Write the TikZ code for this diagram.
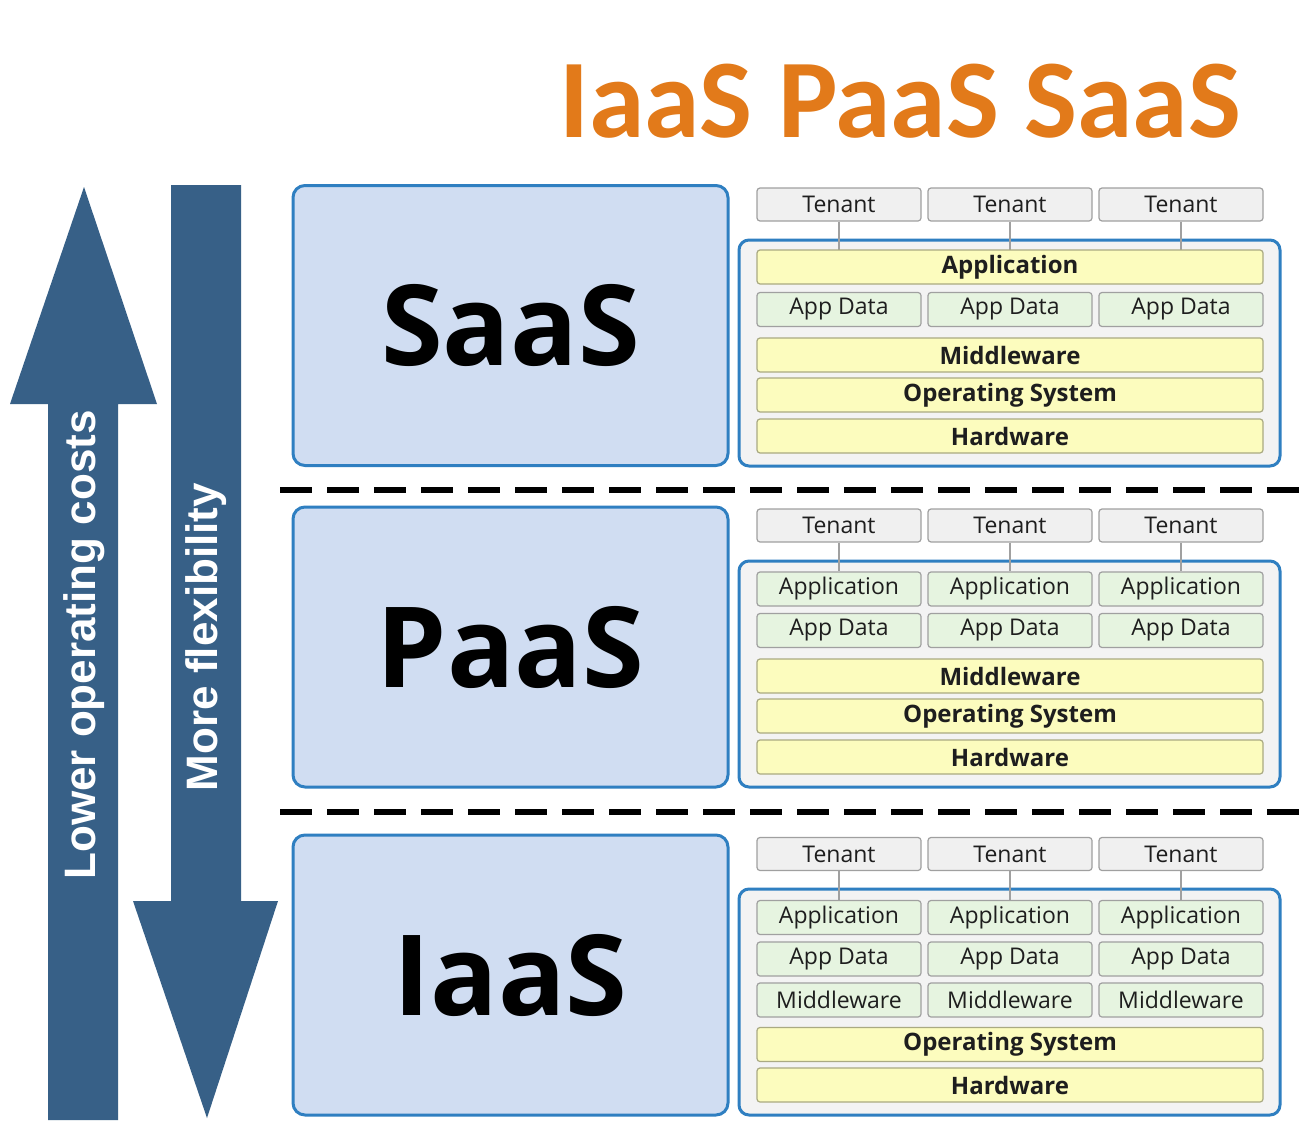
\documentclass[tikz,border=0pt]{standalone}
\usepackage{fontspec}
\setmainfont{Open Sans}
\newfontfamily\titlefont{Carlito}
\newfontfamily\arrowfont{Liberation Sans}
\definecolor{arrowblue}{RGB}{55,96,135}
\definecolor{layerfill}{RGB}{208,221,242}
\definecolor{layerline}{RGB}{47,127,193}
\definecolor{stackfill}{RGB}{243,243,243}
\definecolor{tenantfill}{RGB}{240,240,240}
\definecolor{boxline}{RGB}{160,160,160}
\definecolor{yellowfill}{RGB}{252,252,190}
\definecolor{yellowline}{RGB}{170,170,130}
\definecolor{greenfill}{RGB}{230,244,224}
\definecolor{titleorange}{RGB}{226,122,26}
\definecolor{darktext}{RGB}{30,30,30}
\tikzset{
  layer/.style={draw=layerline, fill=layerfill, line width=3pt, rounded corners=12pt,
    minimum width=435pt, minimum height=280pt, font=\bfseries\fontsize{112}{112}\selectfont},
  stack/.style={draw=layerline, fill=stackfill, line width=3pt, rounded corners=10pt,
    minimum width=541pt, minimum height=226pt},
  tenant/.style={draw=boxline, fill=tenantfill, line width=1.2pt, rounded corners=3pt,
    minimum width=164pt, minimum height=33pt, inner sep=0pt, text=darktext,
    font=\fontsize{23}{23}\selectfont},
  data/.style={tenant, fill=greenfill, minimum height=34pt},
  wide/.style={draw=yellowline, fill=yellowfill, line width=1.2pt, rounded corners=3pt,
    minimum width=506pt, minimum height=34pt, inner sep=0pt, text=darktext,
    font=\bfseries\fontsize{24}{24}\selectfont},
  link/.style={draw=boxline, line width=1.2pt},
  arrowtext/.style={text=white, font=\arrowfont\bfseries\fontsize{44}{44}\selectfont},
  divider/.style={line width=6pt, dash pattern=on 32pt off 15pt}
}
\begin{document}
\begin{tikzpicture}[x=1pt,y=-1pt]
  \fill[white] (0,0) rectangle (1309,1137);
  \useasboundingbox (0,0) rectangle (1309,1137);
  % title
  \node[anchor=base, text=titleorange, font=\titlefont\bfseries\fontsize{112}{112}\selectfont]
    (title) at (900,138) {IaaS PaaS SaaS};
  % the two big arrows
  \fill[arrowblue] (48,1120) -- (48,404) -- (10,404) -- (84,187) -- (157,404)
    -- (118,404) -- (118,1120) -- cycle;
  \fill[arrowblue] (171,185) -- (241,185) -- (241,901) -- (278,901) -- (207,1118)
    -- (133,901) -- (171,901) -- cycle;
  \node[arrowtext, rotate=90] (costs) at (84,645) {Lower operating costs};
  \node[arrowtext, rotate=90] (flex) at (206,637) {More flexibility};
  % dashed dividers
  \draw[divider] (280,490) -- (1300,490);
  \draw[divider] (280,812) -- (1300,812);
  % SaaS
  \node[layer] (saas) at (510.5,325.5) {SaaS};
  \node[stack] (sstack) at (1009.5,353) {};
  \foreach \i/\x in {1/839,2/1010,3/1181}{
    \node[tenant] (st\i) at (\x,204.5) {Tenant};
    \draw[link] (st\i) -- (\x,250);
    \node[data] (sdata\i) at (\x,309.5) {App Data};
  }
  \node[wide] (sapp) at (1010,267) {Application};
  \node[wide] (smid) at (1010,355) {Middleware};
  \node[wide] (sos) at (1010,395) {Operating System};
  \node[wide] (shw) at (1010,436) {Hardware};
  % PaaS
  \node[layer] (paas) at (510.5,647) {PaaS};
  \node[stack] (pstack) at (1009.5,674) {};
  \foreach \i/\x in {1/839,2/1010,3/1181}{
    \node[tenant] (pt\i) at (\x,525.5) {Tenant};
    \node[data] (papp\i) at (\x,589) {Application};
    \node[data] (pdata\i) at (\x,630.5) {App Data};
    \draw[link] (pt\i) -- (papp\i);
  }
  \node[wide] (pmid) at (1010,676) {Middleware};
  \node[wide] (pos) at (1010,716) {Operating System};
  \node[wide] (phw) at (1010,757) {Hardware};
  % IaaS
  \node[layer] (iaas) at (510.5,975) {IaaS};
  \node[stack] (istack) at (1009.5,1002) {};
  \foreach \i/\x in {1/839,2/1010,3/1181}{
    \node[tenant] (it\i) at (\x,854) {Tenant};
    \node[data] (iapp\i) at (\x,917.5) {Application};
    \node[data] (idata\i) at (\x,959) {App Data};
    \node[data] (imid\i) at (\x,1000) {Middleware};
    \draw[link] (it\i) -- (iapp\i);
  }
  \node[wide] (ios) at (1010,1044.5) {Operating System};
  \node[wide] (ihw) at (1010,1085) {Hardware};
\end{tikzpicture}
\end{document}
